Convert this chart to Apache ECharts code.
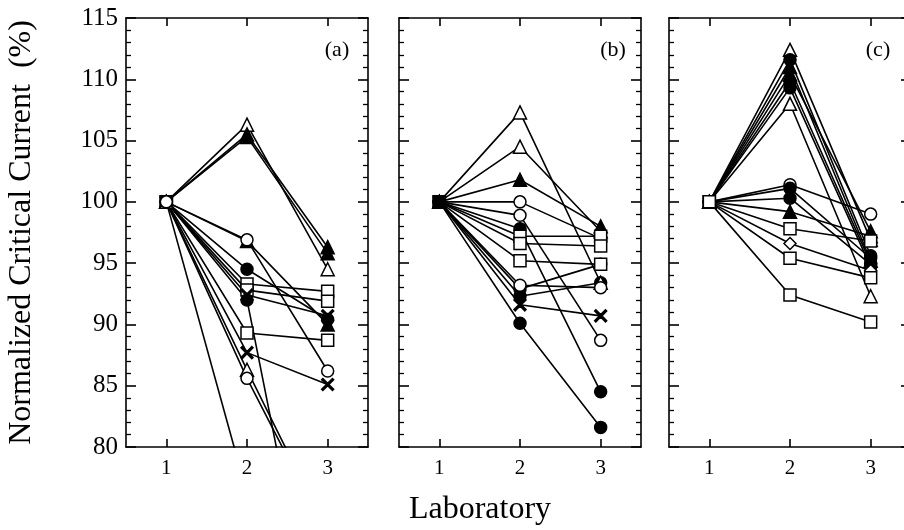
<!DOCTYPE html>
<html>
<head>
<meta charset="utf-8">
<script src="https://cdn.jsdelivr.net/npm/echarts@6/dist/echarts.min.js"></script>
<style>
  html, body { margin: 0; padding: 0; background: #fff; }
  #chart { width: 904px; height: 530px; }
</style>
</head>
<body>
<div id="chart"></div>
<script>
// 实验室编号（x 轴）
const labs = ['1', '2', '3'];
const panelNames = ['(a)', '(b)', '(c)'];

// 每条折线的标记类型 + 数值（归一化临界电流 %）
const marksA = ['triO', 'triF', 'triF', 'triF', 'circO', 'circF', 'sq', 'sq', 'cross', 'circF', 'sq', 'cross', 'triO', 'circO', 'circO'];
const valuesA = [
  [100, 106.3, 94.5],
  [100, 105.5, 96.3],
  [100, 105.3, 95.8],
  [100, 96.8, 90.0],
  [100, 96.9, 86.2],
  [100, 94.5, 90.4],
  [100, 93.3, 92.7],
  [100, 92.8, 91.9],
  [100, 92.4, 90.7],
  [100, 92.0, 59.0],
  [100, 89.3, 88.7],
  [100, 87.7, 85.1],
  [100, 86.3, 73.0],
  [100, 85.6, 72.8],
  [100, 76.2, null],
];

const marksB = ['circF', 'circF', 'triO', 'triO', 'triF', 'circO', 'circO', 'circF', 'sq', 'sq', 'sq', 'circO', 'cross', 'circF'];
const valuesB = [
  [100, 92.9, 94.9],
  [100, 92.3, 93.4],
  [100, 107.3, 93.4],
  [100, 104.5, 97.6],
  [100, 101.8, 98.0],
  [100, 100.0, 97.0],
  [100, 98.9, 88.7],
  [100, 97.8, 84.5],
  [100, 97.2, 97.2],
  [100, 96.6, 96.4],
  [100, 95.2, 94.9],
  [100, 93.2, 93.0],
  [100, 91.6, 90.7],
  [100, 90.1, 81.6],
];

const marksC = ['triO', 'circF', 'triF', 'triF', 'circF', 'circF', 'triO', 'circO', 'circF', 'circF', 'triF', 'sq', 'diam', 'sq', 'sq'];
const valuesC = [
  [100, 112.4, 96.9],
  [100, 111.6, 95.6],
  [100, 111.0, 95.2],
  [100, 110.4, 97.6],
  [100, 109.8, 95.0],
  [100, 109.3, 94.7],
  [100, 108.0, 92.3],
  [100, 101.4, 99.0],
  [100, 101.1, 95.4],
  [100, 100.3, 94.9],
  [100, 99.2, 97.2],
  [100, 97.8, 96.8],
  [100, 96.6, 94.4],
  [100, 95.4, 93.8],
  [100, 92.4, 90.2],
];

const FONT = 'Liberation Serif';
const CROSS = 'path://M0,1L1,0L5,4L9,0L10,1L6,5L10,9L9,10L5,6L1,10L0,9L4,5Z';

// 标记样式
const markStyle = {
  triO: { symbol: 'triangle', size: 13, fill: '#fff' },
  triF: { symbol: 'triangle', size: 13, fill: '#000' },
  circO: { symbol: 'circle', size: 12, fill: '#fff' },
  circF: { symbol: 'circle', size: 12, fill: '#000' },
  sq: { symbol: 'rect', size: 12, fill: '#fff' },
  diam: { symbol: 'diamond', size: 12, fill: '#fff' },
  cross: { symbol: CROSS, size: 12, fill: '#000' },
};

// 三个子图的位置（c 图右边框超出画布）
const panels = [
  { left: 126, right: 536, marks: marksA, values: valuesA },
  { left: 399, right: 263, marks: marksB, values: valuesB },
  { left: 669, right: -7, marks: marksC, values: valuesC },
];

const grid = [];
const xAxis = [];
const yAxis = [];
const series = [];
const tickLine = { color: '#000', width: 1.6 };

panels.forEach((p, i) => {
  grid.push({
    left: p.left, right: p.right, top: 18, bottom: 83, outerBoundsMode: 'none',
  });
  // 底部 / 顶部 x 轴
  ['bottom', 'top'].forEach((pos) => {
    xAxis.push({
      type: 'category',
      gridIndex: i,
      position: pos,
      data: labs,
      boundaryGap: true,
      axisLine: { show: true, lineStyle: tickLine },
      axisTick: { show: true, inside: true, alignWithLabel: true, length: 8, lineStyle: tickLine },
      axisLabel: {
        show: pos === 'bottom', color: '#000', fontFamily: FONT, fontSize: 21, margin: 11,
      },
      splitLine: { show: false },
    });
  });
  // 左 / 右 y 轴
  ['left', 'right'].forEach((pos) => {
    const withLabel = i === 0 && pos === 'left';
    yAxis.push({
      type: 'value',
      gridIndex: i,
      position: pos,
      min: 80,
      max: 115,
      interval: 5,
      name: withLabel ? 'Normalized Critical Current  (%)' : '',
      nameLocation: 'middle',
      nameRotate: 90,
      nameGap: 88,
      nameTextStyle: { color: '#000', fontFamily: FONT, fontSize: 32 },
      axisLine: { show: true, lineStyle: tickLine },
      axisTick: { show: true, inside: true, length: 10, lineStyle: tickLine },
      minorTick: { show: true, splitNumber: 5, length: 5, lineStyle: { color: '#000', width: 1.3 } },
      axisLabel: {
        show: withLabel, color: '#000', fontFamily: FONT, fontSize: 25, margin: 8,
      },
      splitLine: { show: false },
      minorSplitLine: { show: false },
    });
  });

  // 先画所有连线，再画标记，避免线压住空心标记
  p.values.forEach((vals) => {
    series.push({
      type: 'line',
      xAxisIndex: 2 * i,
      yAxisIndex: 2 * i,
      data: vals,
      symbol: 'none',
      clip: true,
      silent: true,
      z: 2,
      lineStyle: { color: '#000', width: 1.6 },
    });
  });
  p.values.forEach((vals, k) => {
    const m = markStyle[p.marks[k]];
    series.push({
      type: 'line',
      xAxisIndex: 2 * i,
      yAxisIndex: 2 * i,
      data: vals,
      symbol: m.symbol,
      symbolSize: m.size,
      showAllSymbol: true,
      clip: true,
      silent: true,
      z: 3,
      lineStyle: { opacity: 0 },
      itemStyle: { color: m.fill, borderColor: '#000', borderWidth: 1.5, opacity: 1 },
    });
  });
});

const chart = echarts.init(document.getElementById('chart'));
chart.setOption({
  animation: false,
  backgroundColor: '#fff',
  grid,
  xAxis,
  yAxis,
  series,
  graphic: [
    ...panelNames.map((t, i) => ({
      type: 'text',
      x: [337, 613, 878][i],
      y: 50,
      style: {
        text: t, font: `22px "${FONT}"`, fill: '#000', textAlign: 'center', textVerticalAlign: 'middle',
      },
    })),
    {
      type: 'text',
      x: 480,
      y: 510,
      style: {
        text: 'Laboratory', font: `32px "${FONT}"`, fill: '#000', textAlign: 'center', textVerticalAlign: 'middle',
      },
    },
  ],
});
</script>
</body>
</html>
